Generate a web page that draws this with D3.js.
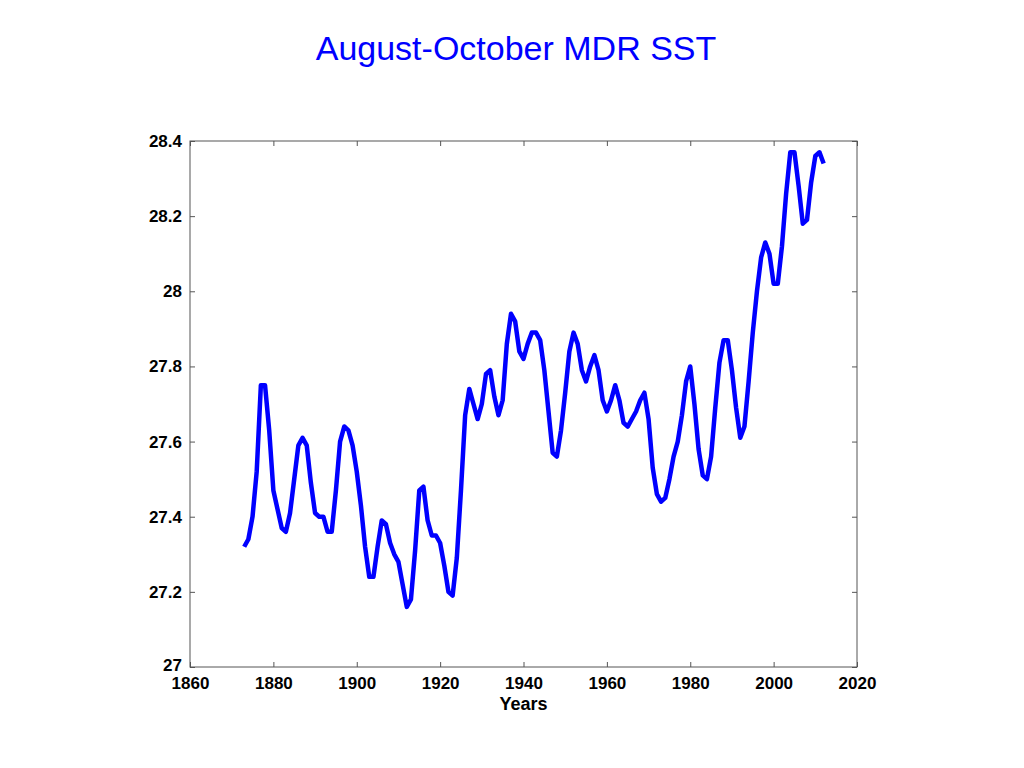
<!DOCTYPE html>
<html>
<head>
<meta charset="utf-8">
<script src="https://cdn.jsdelivr.net/npm/d3@7"></script>
<style>
  html, body { margin: 0; padding: 0; background: #fff; }
  svg { display: block; }
</style>
</head>
<body>
<svg id="chart" width="1024" height="768"></svg>
<script>
const startYear = 1873;
const sstValues = [
  27.32, 27.34, 27.40, 27.52, 27.75, 27.75, 27.63, 27.47, 27.42, 27.37,
  27.36, 27.41, 27.50, 27.59, 27.61, 27.59, 27.49, 27.41, 27.40, 27.40,
  27.36, 27.36, 27.47, 27.60, 27.64, 27.63, 27.59, 27.52, 27.43, 27.32,
  27.24, 27.24, 27.32, 27.39, 27.38, 27.33, 27.30, 27.28, 27.22, 27.16,
  27.18, 27.31, 27.47, 27.48, 27.39, 27.35, 27.35, 27.33, 27.27, 27.20,
  27.19, 27.29, 27.47, 27.67, 27.74, 27.70, 27.66, 27.70, 27.78, 27.79,
  27.72, 27.67, 27.71, 27.86, 27.94, 27.92, 27.84, 27.82, 27.86, 27.89,
  27.89, 27.87, 27.79, 27.68, 27.57, 27.56, 27.63, 27.73, 27.84, 27.89,
  27.86, 27.79, 27.76, 27.80, 27.83, 27.79, 27.71, 27.68, 27.71, 27.75,
  27.71, 27.65, 27.64, 27.66, 27.68, 27.71, 27.73, 27.66, 27.53, 27.46,
  27.44, 27.45, 27.50, 27.56, 27.60, 27.67, 27.76, 27.80, 27.70, 27.58,
  27.51, 27.50, 27.56, 27.69, 27.81, 27.87, 27.87, 27.79, 27.69, 27.61,
  27.64, 27.76, 27.89, 28.00, 28.09, 28.13, 28.10, 28.02, 28.02, 28.12,
  28.26, 28.37, 28.37, 28.28, 28.18, 28.19, 28.29, 28.36, 28.37, 28.34
];
const years = sstValues.map((_, i) => startYear + i);
const xTicks = [1860, 1880, 1900, 1920, 1940, 1960, 1980, 2000, 2020];
const yTicks = [27, 27.2, 27.4, 27.6, 27.8, 28, 28.2, 28.4];
const titleText = "August-October MDR SST";
const xLabelText = "Years";

const svg = d3.select("#chart");
const L = 190, R = 857, T = 141, B = 667;

const x = d3.scaleLinear().domain([1860, 2020]).range([L, R]);
const y = d3.scaleLinear().domain([27, 28.4]).range([B, T]);

const fmt = d => String(+d.toFixed(1));
const axisColor = "#555";
const font = "Liberation Sans, Arial, Helvetica, sans-serif";

// frame
svg.append("rect").attr("x", L).attr("y", T).attr("width", R - L).attr("height", B - T)
  .attr("fill", "none").attr("stroke", axisColor).attr("stroke-width", 1);

function styleAxis(g, showLabels) {
  g.select(".domain").remove();
  g.selectAll(".tick line").attr("stroke", axisColor);
  g.selectAll(".tick text")
    .attr("fill", "#000").style("font-family", font).style("font-size", "17px")
    .style("font-weight", "bold");
  if (!showLabels) g.selectAll(".tick text").remove();
}

svg.append("g").attr("transform", `translate(0,${B})`)
  .call(d3.axisBottom(x).tickValues(xTicks).tickFormat(d3.format("d")).tickSize(-5).tickPadding(10))
  .call(g => styleAxis(g, true));
svg.append("g").attr("transform", `translate(0,${T})`)
  .call(d3.axisTop(x).tickValues(xTicks).tickSize(-5))
  .call(g => styleAxis(g, false));
svg.append("g").attr("transform", `translate(${L},0)`)
  .call(d3.axisLeft(y).tickValues(yTicks).tickFormat(fmt).tickSize(-5).tickPadding(8))
  .call(g => styleAxis(g, true))
  .call(g => g.selectAll(".tick").filter(d => d === 27).select("text").attr("dy", "0.2em"));
svg.append("g").attr("transform", `translate(${R},0)`)
  .call(d3.axisRight(y).tickValues(yTicks).tickSize(-5))
  .call(g => styleAxis(g, false));

// line
const line = d3.line().x((d, i) => x(years[i])).y(d => y(d));
svg.append("path").datum(sstValues)
  .attr("d", line).attr("fill", "none").attr("stroke", "#0000ff")
  .attr("stroke-width", 4.5).attr("stroke-linejoin", "round");

// title
svg.append("text").attr("x", 516).attr("y", 60).attr("text-anchor", "middle")
  .attr("fill", "#0000ff").style("font-family", font).style("font-size", "34px")
  .text(titleText);

// x label
svg.append("text").attr("x", (L + R) / 2).attr("y", 710).attr("text-anchor", "middle")
  .attr("fill", "#000").style("font-family", font).style("font-size", "18px")
  .style("font-weight", "bold").text(xLabelText);
</script>
</body>
</html>
